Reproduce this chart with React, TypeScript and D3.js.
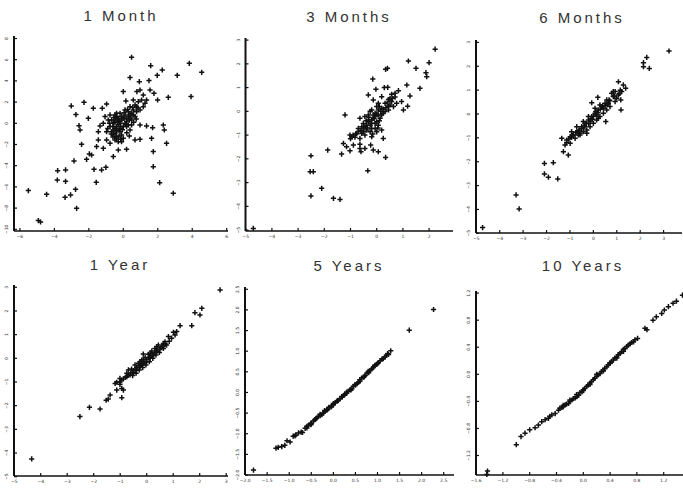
import React, { useEffect, useRef } from 'react';
import * as d3 from 'd3';

type Pt = [number, number];

// values (x, y)
const month1: Pt[] = [
  [0.48, 6.23], [1.59, 5.44], [2.26, 5.03], [1.97, 4.53], [3.13, 4.53], [3.83, 5.66], [4.55, 4.81],
  [0.39, 4.31], [0.93, 3.93], [1.49, 4.03], [0, 2.99], [0.79, 2.99], [0.97, 3.14], [1.16, 2.67],
  [1.55, 3.14], [1.78, 2.83], [2.61, 2.45], [1.99, 2.2], [3.93, 2.52], [0.15, 2.11], [-2.28, 1.98],
  [-3.02, 1.64], [-1.74, 1.42], [-1.22, 1.42], [-0.97, 1.82], [-2.75, 0.82], [-2.03, 0.47],
  [-2.57, -0.22], [-2.51, -0.63], [1.7, -0.41], [2.32, -0.16], [2.38, -0.63], [1.64, -1.42],
  [2.51, -1.89], [-2.42, -1.98], [-1.55, -2.2], [1.74, -2.67], [-1.84, -2.99], [-1.97, -2.89],
  [-2.13, -3.4], [-2.86, -3.55], [-3.81, -4.47], [-3.35, -4.4], [-1.7, -4.34], [-1.26, -4.4],
  [-1.01, -4.15], [-3.83, -5.35], [-3.35, -5.47], [-1.57, -5.57], [1.74, -4.09], [2.11, -5.6],
  [-2.77, -6.23], [-3.06, -6.76], [-3.38, -6.98], [-4.45, -6.7], [-5.51, -6.35], [2.9, -6.6],
  [-2.71, -8.02], [-4.93, -9.18], [-4.8, -9.31], [-0.58, -3.14], [-1.16, -2.36], [-0.77, -1.89],
  [-0.29, -2.52], [0.19, -2.45], [0.68, -1.57], [0.97, -1.51], [0.48, -0.16], [0.97, -0.16],
  [1.35, -0.25], [-1.35, -0.25], [-0.97, -0.79], [-1.45, -0.79], [-1.45, -1.57], [-0.97, -1.57],
  [-0.39, -1.26], [-0.39, 0.94], [-0.77, 0.79], [-1.06, 0.63], [-1.16, 0],
  [-0.48, 0.31], [-0.29, 0.47], [-0.1, 0.63], [0.1, 0.79], [-0.19, 0], [-0.39, -0.31], [-0.58, -0.63],
  [-0.48, -0.94], [-0.19, -0.79], [0, -0.31], [0.19, 0.16], [0.29, 0.63], [0.48, 0.94], [0.58, 1.26],
  [0.77, 1.57], [0.87, 2.04], [1.06, 2.2], [1.26, 1.89], [-0.58, 0], [-0.77, -0.31], [-0.29, -0.63],
  [-0.1, -1.1], [-0.39, -1.42], [-0.58, -1.1], [0.29, 1.1], [0.1, 1.26], [0.48, 0.31], [0.68, 0.63],
  [-0.19, 0.94], [0.19, -0.31], [0.39, -0.63], [0, -1.42], [-0.68, 0.31], [-0.48, 0.79], [-0.87, 0.31],
  [0.39, 1.57], [0.58, 2.2], [-0.29, -1.73], [-0.1, -1.73], [-0.48, -1.57], [-0.29, 0.16], [-0.1, 0.31],
  [0.04, 0.47], [-0.39, 0.63], [-0.15, -0.31], [0.1, 0], [0.29, -0.16], [-0.48, -0.47], [-0.68, -0.79],
  [0.39, 0.79], [0.58, 0.79], [0.77, 1.1], [0.97, 1.26], [1.16, 1.57], [1.35, 2.2], [0.68, 1.73],
  [-0.2, 0.2], [0, 0.5], [-0.3, -0.1], [-0.5, 0.1], [0.2, 0.4], [0.35, 0.3], [0.45, 0.5], [-0.6, -0.3],
  [-0.4, -0.7], [-0.2, -0.5], [-0.05, -0.6], [0.15, -0.1], [-0.35, 0.45], [-0.55, 0.55], [0.05, 1.0],
  [0.25, 1.3], [0.55, 1.5], [0.85, 1.45], [-0.7, -1.0], [-0.25, -1.2], [0.2, -0.9], [-0.8, 0],
  [-0.9, -0.5], [0.6, 0.1], [0.75, 0.4], [-0.15, -1.5], [0.35, -1.2], [-0.6, -1.3],
];

const month3: Pt[] = [
  [2.23, 2.62], [1.21, 2.12], [2.0, 2.05], [1.5, 1.81], [0.41, 1.81], [0.34, 1.77], [1.88, 1.63],
  [1.91, 1.46], [-0.15, 1.36], [0.42, 1.01], [1.15, 1.11], [1.65, 0.97], [-0.03, 0.93], [0.29, 1.0],
  [0.83, 0.87], [0.7, 0.76], [1.27, 0.65], [0.57, 0.72], [0.51, 0.55], [0.19, 0.62], [-0.32, 0.69],
  [-0.13, 0.48], [0.06, 0.34], [0, 0.2], [0.32, 0.34], [0.76, 0.34], [0.64, 0.2], [0.95, 0.41],
  [1.18, 0.22], [1.02, 0.06], [-1.21, -0.15], [-0.64, -0.29], [-0.45, -0.22], [-0.19, 0.06],
  [-0.32, -0.15], [-0.06, -0.08], [0.06, 0.06], [0.19, 0.13], [0.45, 0.2], [0.25, -0.08],
  [-0.13, -0.29], [-0.32, -0.44], [-0.45, -0.65], [-0.57, -0.65], [-0.7, -0.72], [-0.51, -0.86],
  [-0.76, -0.93], [-1.02, -1.0], [-0.95, -1.07], [-0.83, -1.09], [-0.64, -1.14], [-0.45, -1.0],
  [-0.25, -0.86], [-0.06, -0.72], [0.06, -0.58], [0.19, -0.79], [0.25, -1.14], [-0.19, -1.07],
  [-0.23, -1.42], [-0.64, -1.38], [-0.89, -1.42], [-1.27, -1.35], [-1.15, -1.49], [-1.02, -1.66],
  [-0.64, -1.56], [-0.45, -1.56], [-0.13, -1.63], [0.06, -1.7], [-0.6, -1.7], [-1.34, -1.8],
  [-1.87, -1.63], [0.34, -1.94], [-2.51, -1.87], [-2.54, -2.54], [-2.42, -2.54], [-2.1, -3.24],
  [-0.34, -2.5], [-2.51, -3.56], [-1.65, -3.66], [-1.4, -3.71], [-4.71, -4.93],
  [-0.32, -0.36], [-0.19, -0.36], [-0.06, -0.22], [0, -0.44], [0.13, -0.29], [-0.13, -0.15],
  [-0.38, -0.58], [-0.25, -0.58], [-0.51, -0.51], [-0.06, -0.51], [-0.19, -0.72], [0.06, -0.15],
  [0.19, -0.15], [0.32, -0.01], [0.45, 0.06], [0.51, 0.27], [0.57, 0.41], [-0.38, -0.79],
  [-0.57, -0.93], [0, -0.86],
  [-0.3, -0.25], [-0.2, -0.5], [-0.1, -0.3], [0, -0.1], [0.1, -0.4], [0.15, 0], [0.25, 0.1],
  [0.35, 0.15], [-0.4, -0.4], [-0.5, -0.7], [-0.6, -0.8], [-0.7, -0.85], [-0.8, -0.95], [-0.9, -1.0],
  [-0.35, -0.7], [0.05, -0.7], [0.4, 0.35], [0.6, 0.55], [0.7, 0.6], [0.45, 0.5], [-1.0, -1.15],
  [-0.15, -0.95], [0.1, 0.2], [-0.25, 0],
];

const month6: Pt[] = [
  [3.23, 2.64], [2.28, 2.37], [2.14, 2.15], [2.39, 1.91], [2.14, 1.98], [1.07, 1.35], [1.28, 1.22],
  [1.38, 1.08], [0.93, 0.94], [1.17, 0.59], [1.18, 0.17], [0.53, -0.32], [0.19, 0.7], [-0.07, 0.47],
  [-1.35, -1.02], [-1.14, -1.2], [-0.93, -0.98], [-1.28, -1.58], [-1.07, -1.72], [-2.09, -2.07],
  [-1.71, -2.04], [-2.09, -2.51], [-1.92, -2.65], [-1.52, -2.72], [-3.3, -3.39], [-3.17, -3.98],
  [-4.73, -4.76],
  [0.78, 0.87], [0.85, 0.73], [0.67, 0.59], [0.5, 0.45], [0.36, 0.31], [0.21, 0.17], [0.07, 0.03],
  [-0.07, -0.11], [-0.21, -0.25], [-0.36, -0.39], [-0.5, -0.53], [-0.61, -0.67], [-0.75, -0.78],
  [-0.85, -0.88], [-0.99, -0.95], [-1.14, -1.09], [-1.21, -1.3], [-0.99, -1.23], [-0.78, -1.02],
  [-0.57, -0.81], [-0.43, -0.74], [-0.28, -0.67], [-0.14, -0.53], [0, -0.39], [0.14, -0.25],
  [0.28, -0.11], [0.43, 0.03], [0.57, 0.17], [0.71, 0.31], [0.93, 0.52], [1.0, 0.66], [1.07, 0.8],
  [1.21, 0.94], [0.85, 0.94], [0.57, 0.59], [0.43, 0.24], [0.14, -0.04], [-0.14, -0.32],
  [-0.36, -0.53], [-0.64, -0.88], [-0.43, -0.32], [-0.21, -0.11], [0.07, 0.24], [0.28, 0.38],
  [0.64, 0.45], [-0.04, -0.22], [-0.28, -0.81], [-0.71, -0.53], [-0.93, -0.74], [0.21, -0.18],
  [-0.57, -0.88],
  [0.3, 0.2], [0.1, 0.1], [-0.1, -0.2], [-0.3, -0.4], [-0.5, -0.6], [-0.7, -0.75], [-0.9, -0.9],
  [0.5, 0.35], [0.7, 0.55], [0.9, 0.75], [1.1, 0.85], [0, -0.1], [-0.2, -0.4], [-0.4, -0.5],
  [0.2, 0.05], [0.4, 0.35], [0.6, 0.4], [-0.6, -0.7], [-1.05, -1.05], [1.15, 1.0],
];

const year1: Pt[] = [
  [2.77, 2.89], [2.08, 2.11], [1.82, 1.93], [2.01, 1.83], [1.7, 1.38], [1.26, 1.38], [1.13, 1.13],
  [1.01, 1.1], [1.07, 0.99], [0.82, 0.92], [0.94, 0.85], [0.69, 0.7], [0.63, 0.63], [-0.13, 0.18],
  [-0.69, -0.49], [-0.75, -0.63], [-1.01, -0.85], [-1.19, -1.06], [-1.01, -1.1], [-0.94, -1.27],
  [-0.88, -1.34], [-1.13, -1.34], [-1.38, -1.55], [-1.45, -1.72], [-1.53, -1.77], [-0.94, -1.66],
  [-2.16, -2.07], [-1.76, -2.14], [-2.52, -2.46], [-4.34, -4.25],
  [0.75, 0.56], [0.57, 0.49], [0.5, 0.39], [0.38, 0.28], [0.25, 0.14], [0.13, 0], [0, -0.14],
  [-0.13, -0.21], [-0.25, -0.35], [-0.38, -0.49], [-0.5, -0.59], [-0.63, -0.7], [-0.75, -0.77],
  [-0.88, -0.87], [-1.01, -0.99], [-1.13, -1.01], [0.44, 0.56], [0.31, 0.42], [0.19, 0.31],
  [0.06, 0.17], [-0.06, 0.03], [-0.19, -0.07], [-0.31, -0.21], [-0.44, -0.28], [-0.57, -0.45],
  [0.63, 0.42], [0.48, 0.25], [0.35, 0.14], [0.23, 0], [0.1, -0.14], [-0.03, -0.28], [-0.15, -0.39],
  [-0.28, -0.49], [-0.4, -0.63], [-0.53, -0.73], [-0.25, -0.14], [0.38, 0.49], [0.13, 0.21],
  [-0.13, -0.07], [-0.38, -0.39],
  [0, -0.05], [0.2, 0.1], [0.4, 0.35], [0.6, 0.5], [-0.2, -0.25], [-0.4, -0.45], [-0.6, -0.62],
  [-0.8, -0.8], [0.3, 0.25], [0.1, 0.05], [-0.1, -0.2], [-0.3, -0.3], [-0.5, -0.52], [0.55, 0.45],
  [0.7, 0.6], [0.85, 0.72], [-0.7, -0.72], [-0.95, -0.92],
];

const year5: Pt[] = [
  [2.27, 2.01], [1.72, 1.51], [1.3, 1.01], [-1.81, -1.88], [-1.17, -1.31], [-1.1, -1.28],
  [-0.98, -1.2], [-0.91, -1.06], [-0.85, -1.03], [-0.79, -0.98], [-0.7, -0.97], [-0.64, -0.87],
  [-0.57, -0.8], [-0.51, -0.74], [-0.45, -0.69], [-0.38, -0.62], [-0.3, -0.56], [-0.23, -0.5],
  [-0.15, -0.43], [-0.1, -0.37], [-0.04, -0.33], [0.04, -0.25], [0.11, -0.19], [0.19, -0.1],
  [0.26, -0.05], [0.34, 0.03], [0.42, 0.09], [0.49, 0.19], [0.57, 0.25], [0.64, 0.35], [0.72, 0.41],
  [0.79, 0.51], [0.87, 0.57], [0.94, 0.66], [1.02, 0.72], [1.1, 0.81], [1.17, 0.86], [1.23, 0.94],
  [-0.19, -0.46], [-0.26, -0.54], [-0.34, -0.58], [-0.42, -0.66], [0, -0.3], [0.08, -0.21],
  [0.15, -0.15], [0.23, -0.07], [0.3, 0.01], [0.38, 0.07], [0.45, 0.15], [0.53, 0.21], [0.6, 0.31],
  [0.68, 0.37], [0.76, 0.47], [0.83, 0.53], [0.91, 0.62], [0.98, 0.68], [1.06, 0.77], [1.13, 0.82],
  [-0.05, -0.35], [-0.13, -0.41], [-0.51, -0.78], [-0.6, -0.86], [-0.73, -0.96], [-0.87, -1.05],
  [-0.6, -0.82], [-0.4, -0.64], [-0.2, -0.44], [0, -0.27], [0.2, -0.11], [0.4, 0.06], [0.6, 0.27],
  [0.8, 0.48], [1.0, 0.7], [-0.5, -0.76], [-0.3, -0.53], [-0.1, -0.36], [0.1, -0.2], [0.3, -0.02],
  [0.5, 0.18], [0.7, 0.38], [0.9, 0.6], [1.2, 0.9], [1.25, 0.92], [-1.25, -1.33], [-1.3, -1.35],
  [-1.05, -1.17],
];

const year10: Pt[] = [
  [1.48, 1.17], [1.39, 1.08], [1.34, 1.05], [1.27, 1.0], [1.21, 0.95], [1.17, 0.9], [1.09, 0.85],
  [1.04, 0.8], [0.95, 0.66], [0.92, 0.68], [0.81, 0.53], [0.77, 0.51], [0.72, 0.47], [0.67, 0.43],
  [0.62, 0.38], [0.57, 0.33], [0.52, 0.29], [0.47, 0.24], [0.42, 0.19], [0.37, 0.14], [0.32, 0.09],
  [0.27, 0.04], [0.22, -0.01], [0.17, -0.06], [0.12, -0.11], [0.07, -0.16], [0.02, -0.21],
  [-0.02, -0.26], [-0.07, -0.31], [-0.12, -0.35], [-0.17, -0.38], [-0.22, -0.43], [-0.27, -0.45],
  [-0.32, -0.49], [-0.37, -0.53], [-0.42, -0.58], [-0.47, -0.6], [-0.52, -0.65], [-0.57, -0.67],
  [-0.62, -0.7], [-0.67, -0.75], [-0.8, -0.82], [-0.87, -0.87], [-0.93, -0.92], [-1.0, -1.04],
  [-1.43, -1.43], [-1.44, -1.48], [0.65, 0.41], [0.6, 0.34], [0.55, 0.31], [0.5, 0.26], [0.45, 0.21],
  [0.4, 0.16], [0.35, 0.11], [0.3, 0.06], [0.25, 0.01], [0.2, -0.03], [0.15, -0.08], [0.1, -0.13],
  [0.05, -0.18], [0, -0.23], [-0.05, -0.27], [-0.1, -0.33], [-0.15, -0.36], [-0.2, -0.4],
  [-0.25, -0.44], [-0.3, -0.48], [-0.35, -0.5], [-0.72, -0.79], [0.75, 0.48],
  [0.1, -0.15], [0.3, 0.05], [0.5, 0.24], [0.7, 0.45], [-0.1, -0.3], [-0.3, -0.46], [-0.5, -0.62],
  [0.4, 0.17], [0.2, 0], [0, -0.24], [-0.2, -0.38], [0.6, 0.37],
];

const titles = ['1 Month', '3 Months', '6 Months', '1 Year', '5 Years', '10 Years'];
const series = [month1, month3, month6, year1, year5, year10];

const xTickSets = [
  [-6, -4, -2, 0, 2, 4, 6],
  [-5, -4, -3, -2, -1, 0, 1, 2],
  [-5, -4, -3, -2, -1, 0, 1, 2, 3],
  [-5, -4, -3, -2, -1, 0, 1, 2, 3],
  [-2, -1.5, -1, -0.5, 0, 0.5, 1, 1.5, 2, 2.5],
  [-1.6, -1.2, -0.8, -0.4, 0, 0.4, 0.8, 1.2],
];
const yTickSets = [
  [-10, -8, -6, -4, -2, 0, 2, 4, 6, 8],
  [-5, -4, -3, -2, -1, 0, 1, 2, 3],
  [-5, -4, -3, -2, -1, 0, 1, 2, 3],
  [-5, -4, -3, -2, -1, 0, 1, 2, 3],
  [-2, -1.5, -1, -0.5, 0, 0.5, 1, 1.5, 2, 2.5],
  [-1.2, -0.8, -0.4, 0, 0.4, 0.8, 1.2],
];

// panel geometry in page pixels
const layout = [
  { xr: [19.9, 226.7], yr: [229.3, 38.5], left: 14, right: 228, top: 36, bottom: 231, tx: 121, ty: 21, fmt: 'd' },
  { xr: [245.7, 429.1], yr: [230.1, 40.1], left: 245.5, right: 453, top: 38, bottom: 231, tx: 349, ty: 22, fmt: 'd' },
  { xr: [476.3, 663.6], yr: [233.3, 42.4], left: 476, right: 682, top: 40, bottom: 233, tx: 582, ty: 23, fmt: 'd' },
  { xr: [14.2, 226.2], yr: [476.7, 287.3], left: 14, right: 228, top: 285, bottom: 476, tx: 120, ty: 270, fmt: 'd' },
  { xr: [245.1, 443.7], yr: [475, 289.3], left: 245, right: 454, top: 287, bottom: 475, tx: 349, ty: 271, fmt: '.1f' },
  { xr: [476.1, 663.7], yr: [455.5, 293.1], left: 476, right: 683, top: 291, bottom: 475, tx: 583, ty: 271, fmt: '.1f' },
];

export default function App() {
  const ref = useRef<SVGSVGElement>(null);

  useEffect(() => {
    const svg = d3.select(ref.current);
    svg.selectAll('*').remove();
    svg.append('rect').attr('width', 683).attr('height', 491).attr('fill', '#fff');

    const cross = 'M-2.6,0H2.6M0,-2.6V2.6';

    series.forEach((data, i) => {
      const L = layout[i];
      const xt = xTickSets[i];
      const yt = yTickSets[i];
      const x = d3.scaleLinear().domain([xt[0], xt[xt.length - 1]]).range(L.xr);
      const y = d3.scaleLinear().domain([yt[0], yt[yt.length - 1]]).range(L.yr);
      const fmt = d3.format(L.fmt);
      const g = svg.append('g');

      g.append('text')
        .attr('x', L.tx)
        .attr('y', L.ty)
        .attr('text-anchor', 'middle')
        .attr('font-family', 'Liberation Sans, Arial, sans-serif')
        .attr('font-size', 15)
        .attr('letter-spacing', 3)
        .attr('fill', '#333')
        .text(titles[i]);

      // axes
      g.append('line')
        .attr('x1', L.left).attr('x2', L.left)
        .attr('y1', L.top).attr('y2', L.bottom)
        .attr('stroke', '#111').attr('stroke-width', 2);
      g.append('line')
        .attr('x1', L.left).attr('x2', L.right)
        .attr('y1', L.bottom).attr('y2', L.bottom)
        .attr('stroke', '#111').attr('stroke-width', 1.6);

      g.selectAll('.yt').data(yt).join('line')
        .attr('x1', L.left).attr('x2', L.left + 3)
        .attr('y1', d => y(d)).attr('y2', d => y(d))
        .attr('stroke', '#111').attr('stroke-width', 1.2);
      g.selectAll('.xt').data(xt).join('line')
        .attr('x1', d => x(d)).attr('x2', d => x(d))
        .attr('y1', L.bottom).attr('y2', L.bottom - 3)
        .attr('stroke', '#111').attr('stroke-width', 1.2);

      g.selectAll('.yl').data(yt).join('text')
        .attr('transform', d => `translate(${L.left - 6},${y(d)}) rotate(-90)`)
        .attr('text-anchor', 'middle')
        .attr('font-family', 'DejaVu Sans, sans-serif')
        .attr('font-size', 4.5)
        .attr('fill', '#333')
        .text(d => fmt(d));
      g.selectAll('.xl').data(xt).join('text')
        .attr('x', d => x(d))
        .attr('y', L.bottom + 7)
        .attr('text-anchor', 'middle')
        .attr('font-family', 'DejaVu Sans, sans-serif')
        .attr('font-size', 4.5)
        .attr('fill', '#333')
        .text(d => fmt(d));

      g.append('g')
        .selectAll('path')
        .data(data)
        .join('path')
          .attr('d', cross)
          .attr('transform', d => `translate(${x(d[0])},${y(d[1])})`)
          .attr('stroke', '#111')
          .attr('stroke-width', 1.5)
          .attr('fill', 'none');
    });
  }, []);

  return (
    <svg
      ref={ref}
      width={683}
      height={491}
      style={{ position: 'absolute', left: 0, top: 0 }}
    />
  );
}
